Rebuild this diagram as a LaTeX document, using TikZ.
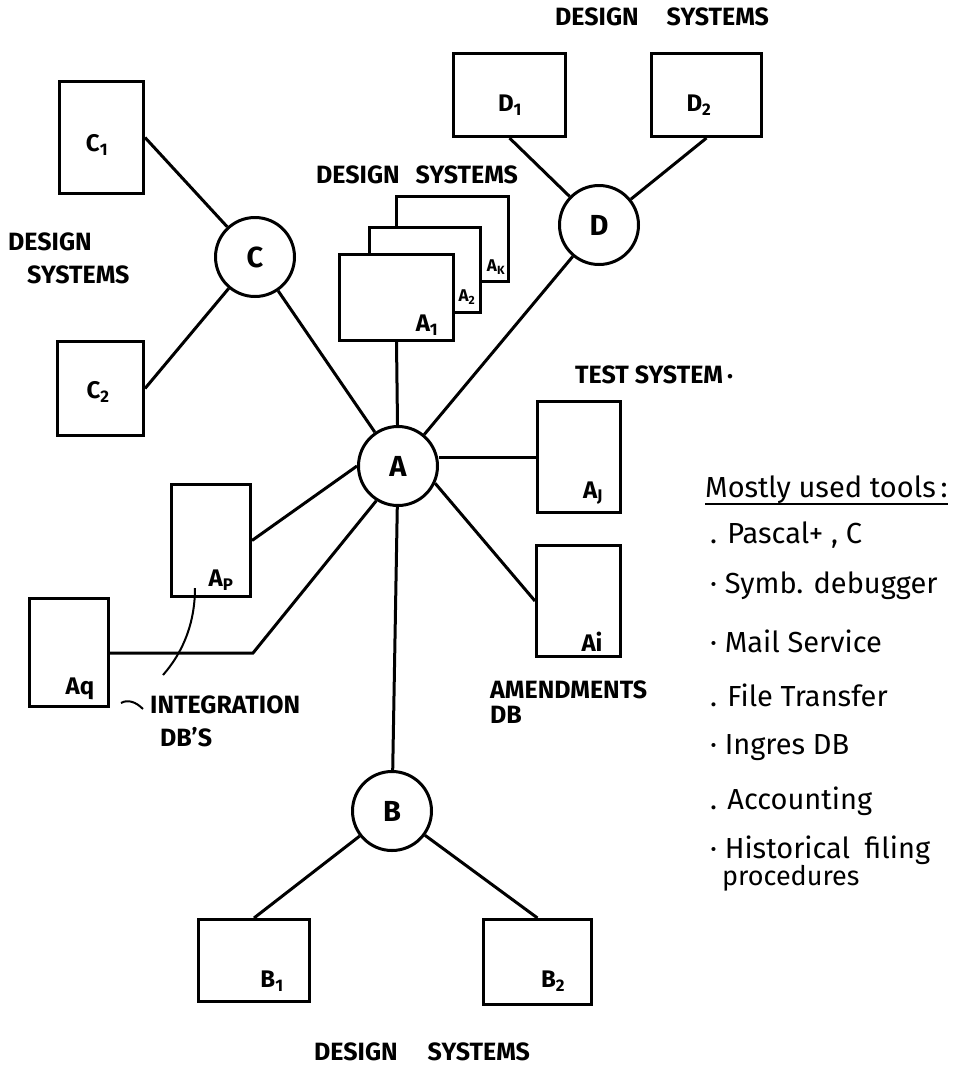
\documentclass[tikz,border=0pt]{standalone}
\usepackage{fontspec}
\setmainfont{Fira Sans}
\begin{document}
\begin{tikzpicture}[x=1pt,y=-1pt,
  sys/.style={draw, line width=3pt, fill=white, inner sep=0pt},
  hub/.style={draw, circle, line width=3pt, minimum size=79pt, inner sep=0pt, fill=white,
    font=\fontsize{29}{30}\selectfont\bfseries},
  link/.style={line width=3pt},
  lead/.style={line width=2pt},
  tag/.style={font=\fontsize{24}{26}\selectfont\bfseries, inner sep=0pt},
  smalltag/.style={font=\fontsize{17}{18}\selectfont\bfseries, inner sep=0pt},
  caption/.style={font=\fontsize{25}{28}\selectfont\bfseries, inner sep=0pt},
  tool/.style={font=\fontsize{29}{32}\selectfont, anchor=west, inner sep=0pt},
]
\useasboundingbox (0,0) rectangle (979,1069);

% hubs
\node[hub] (C) at (255,257) {C};
\node[hub] (A) at (398,466) {A};
\node[hub] (D) at (599,225) {D};
\node[hub] (B) at (392,811) {B};

% systems around hub C
\node[sys, minimum width=84pt, minimum height=112pt] (C1) at (101.5,137.5) {};
\node[sys, minimum width=86pt, minimum height=94pt] (C2) at (100.5,388.5) {};
% systems around hub D
\node[sys, minimum width=112pt, minimum height=83pt] (D1) at (509.5,95) {};
\node[sys, minimum width=110pt, minimum height=83pt] (D2) at (706.5,95) {};
% stacked design systems on hub A
\node[sys, minimum width=112pt, minimum height=85pt] (Ak) at (452.5,239) {};
\node[sys, minimum width=111pt, minimum height=85pt] (A2) at (425,270) {};
\node[sys, minimum width=114pt, minimum height=86pt] (A1) at (396.5,297.5) {};
% test system and databases on hub A
\node[sys, minimum width=83pt, minimum height=111pt] (Aj) at (579,457) {};
\node[sys, minimum width=84pt, minimum height=111pt] (Ai) at (578.5,601) {};
\node[sys, minimum width=79pt, minimum height=112pt] (Ap) at (211,540.5) {};
\node[sys, minimum width=79pt, minimum height=108pt] (Aq) at (69,652.5) {};
% systems around hub B
\node[sys, minimum width=111pt, minimum height=82pt] (B1) at (254,960.5) {};
\node[sys, minimum width=108pt, minimum height=85pt] (B2) at (537.5,962) {};

% box labels
\node[tag] (lC1) at (97,145) {C\textsubscript{1}};
\node[tag] (lC2) at (98,392) {C\textsubscript{2}};
\node[tag] (lD1) at (510,105) {D\textsubscript{1}};
\node[tag] (lD2) at (699,105) {D\textsubscript{2}};
\node[tag] (lA1) at (427,325) {A\textsubscript{1}};
\node[smalltag] (lA2) at (467,297) {A\textsubscript{2}};
\node[smalltag] (lAk) at (496,267) {A\textsubscript{K}};
\node[tag] (lAj) at (593,493) {A\textsubscript{J}};
\node[tag] (lAi) at (592,642) {Ai};
\node[tag] (lAp) at (221,580) {A\textsubscript{P}};
\node[tag] (lAq) at (80,689) {Aq};
\node[tag] (lB1) at (272,981) {B\textsubscript{1}};
\node[tag] (lB2) at (553,981) {B\textsubscript{2}};

% connectors
\draw[link] (C1.east) -- (C);
\draw[link] (C2.east) -- (C);
\draw[link] (C) -- (A);
\draw[link] (D1.south) -- (D);
\draw[link] (D2.south) -- (D);
\draw[link] (D) -- (A);
\draw[link] (A1.south) -- (A);
\draw[link] (A.east |- Aj.west) -- (Aj.west);
\draw[link] (A.-25) -- (Ai.west);
\draw[link] (Ap.east) -- (A.west);
\coordinate (bend) at (253,653);
\draw[link] (Aq.east |- bend) -- (bend) -- (A.238);
\draw[link] (A) -- (B);
\draw[link] (B) -- (B1.north);
\draw[link] (B) -- (B2.north);

% captions
\node[caption] (capD) at (662,17) {DESIGN\hspace{28pt}SYSTEMS};
\node[caption] (capA) at (417,175) {DESIGN\hspace{16pt}SYSTEMS};
\node[caption, anchor=west] (capC1) at (8,242) {DESIGN};
\node[caption, anchor=west] (capC2) at (27,275) {SYSTEMS};
\node[caption, anchor=west] (capT) at (575,375) {TEST SYSTEM\,\raisebox{5pt}{.}};
\node[caption, anchor=west] (capM1) at (490,690) {AMENDMENTS};
\node[caption, anchor=west] (capM2) at (490,715) {DB};
\node[caption, anchor=west] (capI1) at (150,705) {INTEGRATION};
\node[caption, anchor=west] (capI2) at (160,737) {DB'S};
\node[caption] (capB) at (422,1052) {DESIGN\hspace{30pt}SYSTEMS};

% leader marks for the integration databases
\coordinate (pin) at (195,588);
\coordinate (pend) at (163,675);
\draw[lead] (pin) .. controls (195,620) and (185,650) .. (pend);
\coordinate (qs) at (121,703);
\coordinate (qe) at (143,709);
\draw[lead] (qs) .. controls (128,699) and (136,702) .. (qe);

% tools list
\node[tool] (head) at (705,490) {Mostly used tools\,:};
\draw[lead] ([yshift=-6pt]head.base west) -- ([yshift=-6pt]head.base east);
\node[tool] (t1) at (710,535) {. Pascal+ , C};
\node[tool] (t2) at (710,586) {· Symb. debugger};
\node[tool] (t3) at (710,641) {· Mail Service};
\node[tool] (t4) at (710,695) {. File Transfer};
\node[tool] (t5) at (710,748) {· Ingres DB};
\node[tool] (t6) at (710,801) {. Accounting};
\node[tool] (t7) at (710,850) {· Historical\enspace filing};
\node[tool, anchor=north west, font=\fontsize{27}{28}\selectfont] (t8) at (t7.south west -| 722,0) {procedures};
\end{tikzpicture}
\end{document}
